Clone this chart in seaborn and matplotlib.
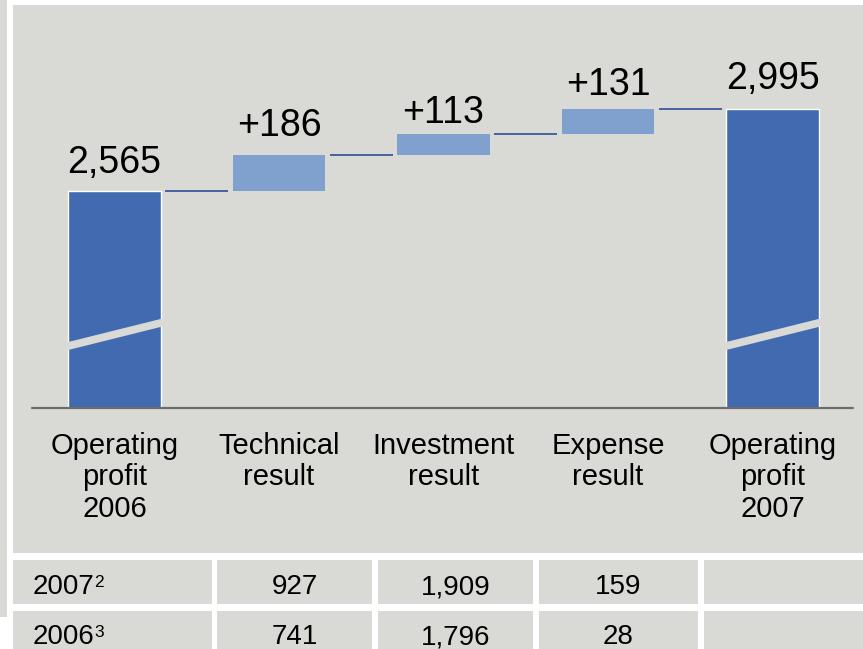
import matplotlib
matplotlib.use("Agg")
import matplotlib.pyplot as plt
from matplotlib.patches import Rectangle, Polygon
from matplotlib.text import Annotation
import seaborn as sns
import pandas as pd
import numpy as np

# ---------------- data ----------------
categories = ["Operating\nprofit\n2006", "Technical\nresult", "Investment\nresult",
              "Expense\nresult", "Operating\nprofit\n2007"]
start_total = 2565
deltas = [186, 113, 131]
end_total = 2995
value_labels = ["2,565", "+186", "+113", "+131", "2,995"]

row_labels = ["2007", "2006"]
row_notes = ["2", "3"]
technical = ["927", "741"]
investment = ["1,909", "1,796"]
expense = ["159", "28"]

# ---------------- style ----------------
sns.set_theme(style="white")
plt.rcParams["font.family"] = ["Liberation Sans", "DejaVu Sans"]

BG = "#D9D9D5"
DARK = "#416AB1"
LIGHT = "#80A0CE"
LINE = "#2F4E9A"
BASE = "#6E6E6E"

W, H = 863, 649
fig = plt.figure(figsize=(W / 100, H / 100), dpi=100)
fig.patch.set_facecolor("white")


def fx(x):
    return x / W


def fy(y):
    return 1 - y / H


def rect_px(x0, y0, x1, y1, color):
    fig.add_artist(Rectangle((fx(x0), fy(y1)), fx(x1) - fx(x0), fy(y0) - fy(y1),
                             transform=fig.transFigure, facecolor=color,
                             edgecolor="none", zorder=0))


# background panels
rect_px(0, 0, 7, 617, BG)
rect_px(13, 5, 863, 553, BG)

# axes covering chart area (baseline at bottom)
ax = fig.add_axes([fx(13), fy(408), fx(863) - fx(13), fy(5) - fy(408)])
ax.set_facecolor("none")

BREAK = 1427          # axis break offset (values below are not drawn)
YTOP = 2113

bw = 0.565
# total bars via seaborn
totals = [start_total, np.nan, np.nan, np.nan, end_total]
df = pd.DataFrame({"cat": categories, "h": [t - BREAK for t in totals]})
sns.barplot(data=df, x="cat", y="h", order=categories, color=DARK,
            width=bw, saturation=1, ax=ax, zorder=2)

# floating delta bars
cum = np.cumsum([start_total] + deltas)
bottoms = cum[:-1]
ax.bar([1, 2, 3], deltas, bottom=bottoms - BREAK, width=bw, color=LIGHT,
       edgecolor="none", zorder=2)

# connectors
levels = list(cum)  # 2565, 2751, 2864, 2995
for i, lv in enumerate(levels):
    ax.hlines(lv - BREAK, i + 0.31, i + 1 - 0.31, color=LINE, lw=1.2, zorder=3)

# break slashes
for i in [0, 4]:
    poly = Polygon([(i - 0.30, 300), (i + 0.30, 429), (i + 0.30, 471), (i - 0.30, 342)],
                   closed=True, facecolor=BG, edgecolor="none", zorder=4)
    ax.add_patch(poly)

# value labels
tops = [start_total] + list(cum[1:]) + [end_total]
gaps_px = [18, 19, 11, 14, 20]
for i, (t, lab) in enumerate(zip(tops, value_labels)):
    ax.annotate(lab, (i, t - BREAK), xytext=(0, gaps_px[i] * 0.72),
                textcoords="offset points", ha="center", va="baseline",
                fontsize=27, color="black", zorder=5)

ax.set_ylim(0, YTOP)
ax.set_xlim((13 - 114.5) / 164.5, (863 - 114.5) / 164.5)

# baseline
ax.axhline(0, xmin=(32 - 13) / 850, xmax=(853 - 13) / 850, color=BASE, lw=1.6,
           zorder=6, clip_on=False)

for s in ax.spines.values():
    s.set_visible(False)
ax.set_yticks([])
ax.set_xlabel("")
ax.set_ylabel("")
ax.set_xticks(range(5))
ax.set_xticklabels(categories, fontsize=21, linespacing=1.16, color="black")
ax.tick_params(axis="x", length=0, pad=17)

# table
cols = [(13, 212), (217, 372), (378, 533), (539, 698), (704, 863)]
rows = [(560, 604), (611, 655)]
for r, (y0, y1) in enumerate(rows):
    for (x0, x1) in cols:
        rect_px(x0, y0, x1, y1, BG)
    base_y = y0 + 34 if r == 0 else y0 + 33
    t = fig.text(fx(33), fy(base_y), row_labels[r], ha="left", va="baseline",
                 fontsize=20, color="black")
    fig.add_artist(Annotation(
        row_notes[r], xy=(1, 0), xycoords=t, xytext=(-0.5, 9.5),
        textcoords="offset points", ha="left", va="baseline",
        fontsize=12.5, color="black"))
    for c, vals in zip([1, 2, 3], [technical, investment, expense]):
        cx = (cols[c][0] + cols[c][1]) / 2
        fig.text(fx(cx), fy(base_y), vals[r], ha="center", va="baseline",
                 fontsize=20, color="black")

fig.savefig("out.png", dpi=100, facecolor="white")
